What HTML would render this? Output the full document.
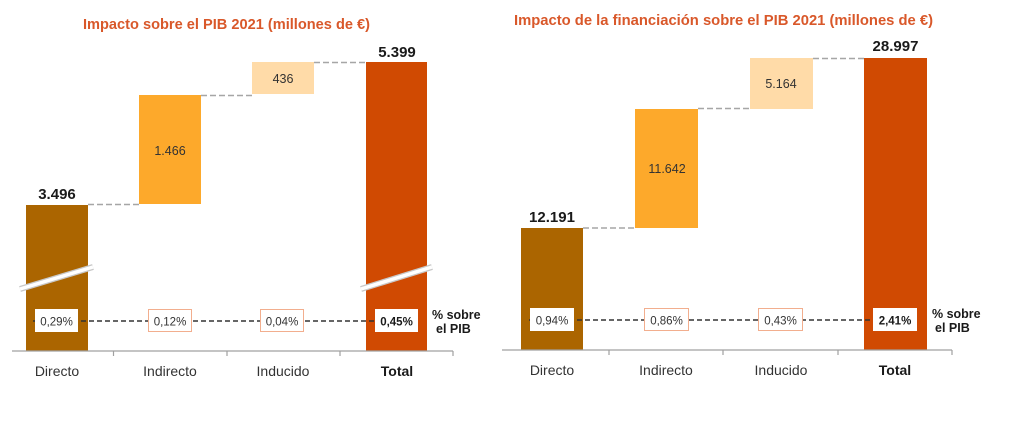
<!DOCTYPE html>
<html>
<head>
<meta charset="utf-8">
<style>
  html, body { margin: 0; padding: 0; background: #ffffff; }
  body { width: 1017px; height: 424px; overflow: hidden; }
  svg { display: block; }
  text { font-family: "Liberation Sans", Arial, sans-serif; }
</style>
</head>
<body>
<svg width="1017" height="424" viewBox="0 0 1017 424" xmlns="http://www.w3.org/2000/svg">
  <rect x="0" y="0" width="1017" height="424" fill="#ffffff"/>

  <!-- ================= LEFT CHART ================= -->
  <text x="83" y="29" font-size="14.6" font-weight="bold" fill="#D9582A" textLength="287" lengthAdjust="spacingAndGlyphs">Impacto sobre el PIB 2021 (millones de €)</text>

  <!-- connectors -->
  <g stroke="#A6A6A6" stroke-width="1.5" stroke-dasharray="6,3" fill="none">
    <line x1="88" y1="204.5" x2="139" y2="204.5"/>
    <line x1="201" y1="95.5" x2="252" y2="95.5"/>
    <line x1="314" y1="62.5" x2="366" y2="62.5"/>
  </g>

  <!-- bars -->
  <rect x="26" y="205" width="62" height="146" fill="#AB6500"/>
  <rect x="139" y="95" width="62" height="109" fill="#FDA92B"/>
  <rect x="252" y="62" width="62" height="32" fill="#FFDBA8"/>
  <rect x="366" y="62" width="61" height="289" fill="#D04A02"/>

  <!-- break marks -->
  <g stroke-linecap="butt">
    <line x1="20" y1="289" x2="93" y2="267" stroke="#C8C8C8" stroke-width="6"/>
    <line x1="20" y1="289" x2="93" y2="267" stroke="#ffffff" stroke-width="3.5"/>
    <line x1="361" y1="289" x2="432" y2="267" stroke="#C8C8C8" stroke-width="6"/>
    <line x1="361" y1="289" x2="432" y2="267" stroke="#ffffff" stroke-width="3.5"/>
  </g>

  <!-- value labels -->
  <text x="57" y="199" font-size="15" font-weight="bold" fill="#1a1a1a" text-anchor="middle">3.496</text>
  <text x="397" y="57" font-size="15" font-weight="bold" fill="#1a1a1a" text-anchor="middle">5.399</text>
  <text x="170" y="155" font-size="12.5" fill="#333333" text-anchor="middle">1.466</text>
  <text x="283" y="83" font-size="12.5" fill="#333333" text-anchor="middle">436</text>

  <!-- pct dashed line -->
  <line x1="33" y1="321" x2="375" y2="321" stroke="#333333" stroke-width="1.5" stroke-dasharray="5,3"/>
  <!-- pct boxes -->
  <rect x="35" y="309" width="43" height="23" fill="#ffffff"/>
  <rect x="148.5" y="309.5" width="43" height="22" fill="#ffffff" stroke="#F2AE8E" stroke-width="1"/>
  <rect x="260.5" y="309.5" width="43" height="22" fill="#ffffff" stroke="#F2AE8E" stroke-width="1"/>
  <rect x="375" y="309" width="43" height="23" fill="#ffffff"/>
  <g font-size="11.5" fill="#333333" text-anchor="middle">
    <text x="56.5" y="325.5">0,29%</text>
    <text x="170" y="325.5">0,12%</text>
    <text x="282" y="325.5">0,04%</text>
    <text x="396.5" y="325.5" font-weight="bold" fill="#1a1a1a">0,45%</text>
  </g>
  <text x="432" y="319" font-size="12.5" font-weight="bold" fill="#1a1a1a">% sobre</text>
  <text x="436" y="333" font-size="12.5" font-weight="bold" fill="#1a1a1a">el PIB</text>

  <!-- axis -->
  <g stroke="#A0A0A0" stroke-width="1.2" fill="none">
    <line x1="12" y1="351" x2="453" y2="351"/>
    <line x1="113.5" y1="351" x2="113.5" y2="356"/>
    <line x1="227" y1="351" x2="227" y2="356"/>
    <line x1="340" y1="351" x2="340" y2="356"/>
    <line x1="453" y1="351" x2="453" y2="356"/>
  </g>
  <g font-size="14" fill="#333333" text-anchor="middle">
    <text x="57" y="376">Directo</text>
    <text x="170" y="376">Indirecto</text>
    <text x="283" y="376">Inducido</text>
    <text x="397" y="376" font-weight="bold" fill="#1a1a1a">Total</text>
  </g>

  <!-- ================= RIGHT CHART ================= -->
  <text x="514" y="25" font-size="14.6" font-weight="bold" fill="#D9582A" textLength="419" lengthAdjust="spacingAndGlyphs">Impacto de la financiación sobre el PIB 2021 (millones de €)</text>

  <g stroke="#A6A6A6" stroke-width="1.5" stroke-dasharray="6,3" fill="none">
    <line x1="583" y1="228" x2="635" y2="228"/>
    <line x1="698" y1="108.5" x2="750" y2="108.5"/>
    <line x1="813" y1="58.5" x2="864" y2="58.5"/>
  </g>

  <rect x="521" y="228" width="62" height="122" fill="#AB6500"/>
  <rect x="635" y="109" width="63" height="119" fill="#FDA92B"/>
  <rect x="750" y="58" width="63" height="51" fill="#FFDBA8"/>
  <rect x="864" y="58" width="63" height="292" fill="#D04A02"/>

  <text x="552" y="222" font-size="15" font-weight="bold" fill="#1a1a1a" text-anchor="middle">12.191</text>
  <text x="895.5" y="51" font-size="15" font-weight="bold" fill="#1a1a1a" text-anchor="middle">28.997</text>
  <text x="667" y="173" font-size="12.5" fill="#333333" text-anchor="middle">11.642</text>
  <text x="781" y="88" font-size="12.5" fill="#333333" text-anchor="middle">5.164</text>

  <line x1="529" y1="320" x2="873" y2="320" stroke="#333333" stroke-width="1.5" stroke-dasharray="5,3"/>
  <rect x="530" y="308" width="44" height="23" fill="#ffffff"/>
  <rect x="644.5" y="308.5" width="44" height="22" fill="#ffffff" stroke="#F2AE8E" stroke-width="1"/>
  <rect x="758.5" y="308.5" width="44" height="22" fill="#ffffff" stroke="#F2AE8E" stroke-width="1"/>
  <rect x="873" y="308" width="44" height="23" fill="#ffffff"/>
  <g font-size="11.5" fill="#333333" text-anchor="middle">
    <text x="552" y="324.5">0,94%</text>
    <text x="666.5" y="324.5">0,86%</text>
    <text x="780.5" y="324.5">0,43%</text>
    <text x="895" y="324.5" font-weight="bold" fill="#1a1a1a">2,41%</text>
  </g>
  <text x="932" y="318" font-size="12.5" font-weight="bold" fill="#1a1a1a">% sobre</text>
  <text x="935" y="332" font-size="12.5" font-weight="bold" fill="#1a1a1a">el PIB</text>

  <g stroke="#A0A0A0" stroke-width="1.2" fill="none">
    <line x1="502" y1="350" x2="952" y2="350"/>
    <line x1="609" y1="350" x2="609" y2="355"/>
    <line x1="723" y1="350" x2="723" y2="355"/>
    <line x1="838" y1="350" x2="838" y2="355"/>
    <line x1="952" y1="350" x2="952" y2="355"/>
  </g>
  <g font-size="14" fill="#333333" text-anchor="middle">
    <text x="552" y="375">Directo</text>
    <text x="666" y="375">Indirecto</text>
    <text x="781" y="375">Inducido</text>
    <text x="895" y="375" font-weight="bold" fill="#1a1a1a">Total</text>
  </g>
</svg>
</body>
</html>
